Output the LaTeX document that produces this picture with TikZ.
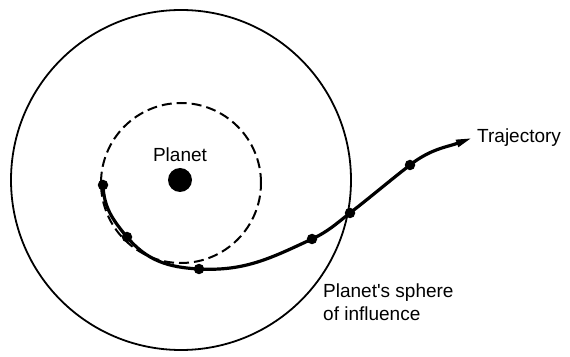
\documentclass[tikz,border=0pt]{standalone}
\usepackage{fontspec}
\setmainfont{Liberation Sans}
\usetikzlibrary{arrows.meta,positioning}

\begin{document}
\begin{tikzpicture}[
  x=1pt, y=1pt,
  label text/.style={font=\fontsize{19}{23}\selectfont, inner sep=0pt, align=left},
  fixpoint/.style={circle, fill, inner sep=0pt, minimum size=10.5pt},
  path line/.style={line width=3.2pt, line join=round},
  arrow/.style={-{Triangle[length=16pt, width=7pt]}}
]
  \useasboundingbox (0,0) rectangle (570,356);

  % sphere of influence and orbit
  \draw[line width=1.8pt] (181,176) circle[radius=170];
  \draw[line width=2pt, dash pattern=on 10pt off 5pt] (181,173) circle[radius=80];

  \node[circle, fill, minimum size=24pt, inner sep=0pt] (planet) at (180,176) {};
  \node[label text, above=6pt of planet] (planetlabel) {Planet};

  % trajectory points
  \foreach \n/\x/\y in {1/103/171, 2/127/119, 3/199/87, 4/312/117, 5/350/143, 6/410/191}
    \node[fixpoint] (p\n) at (\x,\y) {};
  \coordinate (tip) at (472,218);

  \draw[path line, arrow] (p1.center) to[out=272, in=130] (p2.center)
    to[out=310, in=177] (p3.center) to[out=-3, in=205] (p4.center)
    to[out=25, in=218] (p5.center) to[out=38, in=218] (p6.center)
    to[out=38, in=200] (tip);

  \node[label text, anchor=west] (trajlabel) at (477,218) {Trajectory};
  \node[label text, anchor=north west] (spherelabel) at (323,72)
    {Planet\textquotesingle s sphere\\of influence};
\end{tikzpicture}
\end{document}
